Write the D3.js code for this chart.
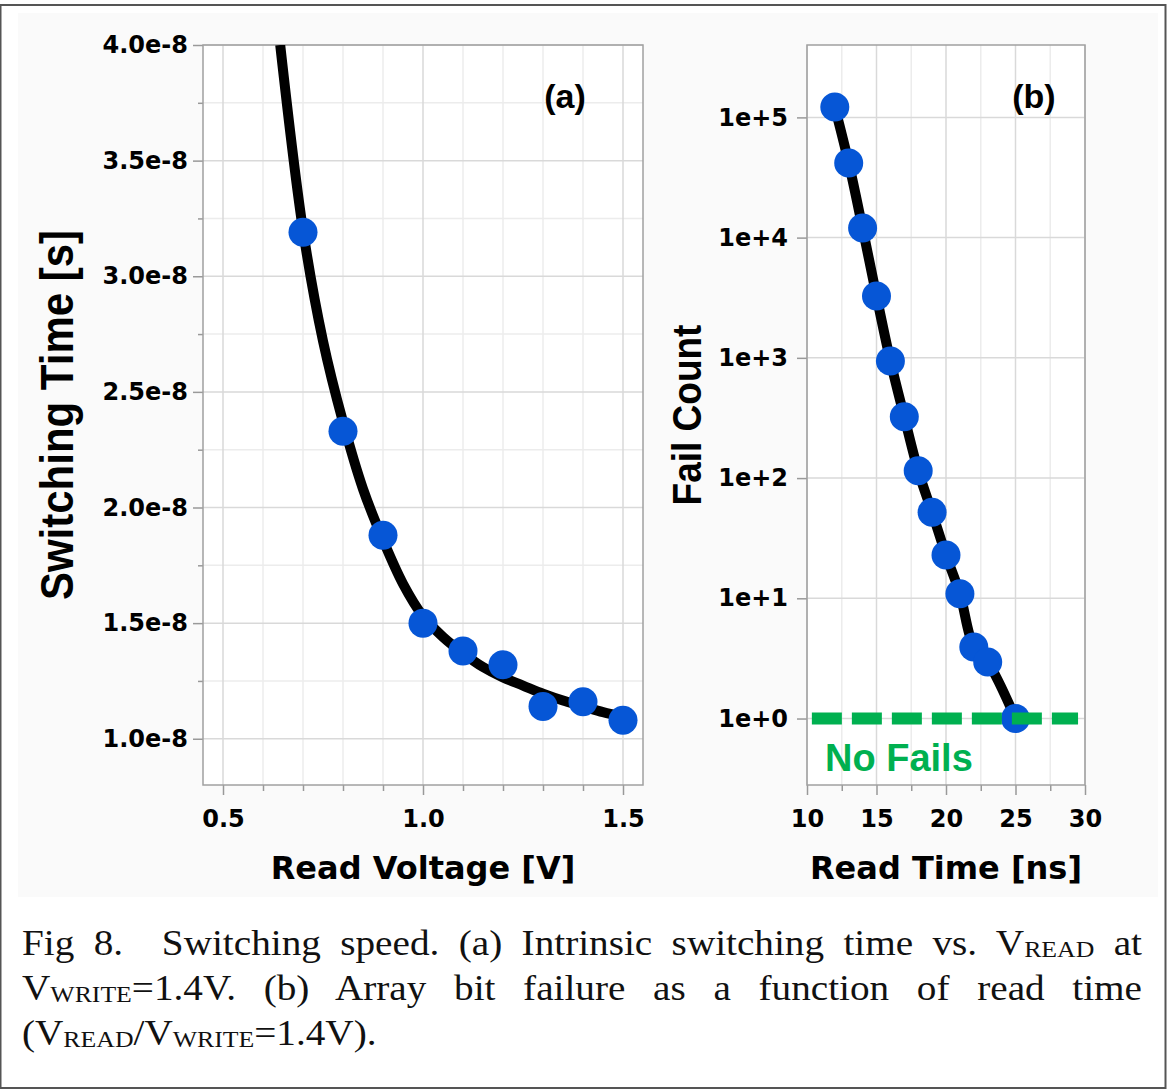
<!DOCTYPE html>
<html>
<head>
<meta charset="utf-8">
<script src="https://cdn.jsdelivr.net/npm/d3@7"></script>
<style>
  body { margin: 0; background: #fff; }
  #wrap { position: relative; width: 1175px; height: 1091px; overflow: hidden; }
  #wrap svg { position: absolute; left: 0; top: 0; }
  /* the scanned caption is a little stretched sideways */
  .caption { position: absolute; left: 22px; top: 921px; width: 1000px;
    transform: scaleX(1.12); transform-origin: 0 0;
    font-family: "Liberation Serif", "Times New Roman", serif; font-size: 35px; color: #111; }
  .caption div { height: 45px; line-height: 45px; white-space: nowrap; }
  .caption .just { text-align: justify; text-align-last: justify; }
  .caption .sc { font-size: 23px; vertical-align: -2px; line-height: 0; }
</style>
</head>
<body>
<div id="wrap"></div>
<script>
// ---- panel (a): switching time vs read voltage ----
const voltage    = [0.7, 0.8, 0.9, 1.0, 1.1, 1.2, 1.3, 1.4, 1.5];
const switchTime = [3.19e-8, 2.33e-8, 1.88e-8, 1.50e-8, 1.38e-8, 1.32e-8, 1.14e-8, 1.16e-8, 1.08e-8];
// fitted curve
const fitVoltage = [0.643, 0.70, 0.75, 0.80, 0.85, 0.90, 0.95, 1.00, 1.05, 1.10, 1.15, 1.20, 1.25, 1.30, 1.35, 1.40, 1.45, 1.50];
const fitTime    = [4.0e-8, 3.2e-8, 2.72e-8, 2.37e-8, 2.08e-8, 1.86e-8, 1.67e-8, 1.53e-8, 1.44e-8, 1.37e-8,
                    1.31e-8, 1.265e-8, 1.23e-8, 1.195e-8, 1.165e-8, 1.14e-8, 1.115e-8, 1.095e-8];
const aXTicks = [0.5, 1.0, 1.5];
const aXMinor = [0.6, 0.7, 0.8, 0.9, 1.1, 1.2, 1.3, 1.4];
const aYTicks = [1.0e-8, 1.5e-8, 2.0e-8, 2.5e-8, 3.0e-8, 3.5e-8, 4.0e-8];
const aYMinor = [1.25e-8, 1.75e-8, 2.25e-8, 2.75e-8, 3.25e-8, 3.75e-8];

// ---- panel (b): fail count vs read time ----
const readTime  = [12, 13, 14, 15, 16, 17, 18, 19, 20, 21, 22, 23, 25];
const failCount = [122000, 41800, 12000, 3270, 943, 323, 115, 52, 22.9, 10.9, 3.94, 2.95, 1];
const noFailsX  = [10.35, 29.5];
const noFailsY  = 1;
const bXTicks = [10, 15, 20, 25, 30];
const bXMinor = [12.5, 17.5, 22.5, 27.5];
const bYTicks = [1, 10, 100, 1000, 10000, 100000];

const W = 1175, H = 1091;
const blue = "#0656d6", green = "#00b050";
const tickFont = "'DejaVu Sans', sans-serif";
const titleFont = "'Liberation Sans', Arial, sans-serif";

const wrap = d3.select("#wrap");
const svg = wrap.append("svg").attr("width", W).attr("height", H);

// outer frame + light figure panel
svg.append("rect").attr("x", 18).attr("y", 13).attr("width", 1140).attr("height", 884).attr("fill", "#fafafa");
svg.append("rect").attr("x", 0.5).attr("y", 5).attr("width", 1165).attr("height", 1083)
  .attr("fill", "none").attr("stroke", "#555").attr("stroke-width", 2);

const xA = d3.scaleLinear().domain([0.45, 1.55]).range([203, 643]);
const yA = d3.scaleLinear().domain([0.8e-8, 4.0e-8]).range([785, 45]);
const xB = d3.scaleLinear().domain([10, 30]).range([807, 1085]);
const yB = d3.scaleLog().domain([0.28, 4e5]).range([785, 45]);

function frame(x, y, xMajor, xMinor, yMajor, yMinor, xFmt, yFmt, yPad, id) {
  const g = svg.append("g");
  const [x0, x1] = x.range(), [y0, y1] = [y.range()[1], y.range()[0]];
  g.append("rect").attr("x", x0).attr("y", y0).attr("width", x1 - x0).attr("height", y1 - y0).attr("fill", "#fff");

  // grid
  g.append("g").selectAll("line").data(xMinor).join("line")
    .attr("x1", d => x(d)).attr("x2", d => x(d)).attr("y1", y0).attr("y2", y1)
    .attr("stroke", "#ececec").attr("stroke-width", 1.5);
  g.append("g").selectAll("line").data(yMinor).join("line")
    .attr("y1", d => y(d)).attr("y2", d => y(d)).attr("x1", x0).attr("x2", x1)
    .attr("stroke", "#ececec").attr("stroke-width", 1.5);
  g.append("g").selectAll("line").data(xMajor).join("line")
    .attr("x1", d => x(d)).attr("x2", d => x(d)).attr("y1", y0).attr("y2", y1)
    .attr("stroke", "#d9d9d9").attr("stroke-width", 1.5);
  g.append("g").selectAll("line").data(yMajor).join("line")
    .attr("y1", d => y(d)).attr("y2", d => y(d)).attr("x1", x0).attr("x2", x1)
    .attr("stroke", "#d9d9d9").attr("stroke-width", 1.5);

  // axes
  const ax = g.append("g").attr("transform", `translate(0,${y1})`)
    .call(d3.axisBottom(x).tickValues(xMajor).tickFormat(xFmt).tickSize(10).tickPadding(15));
  const axm = g.append("g").attr("transform", `translate(0,${y1})`)
    .call(d3.axisBottom(x).tickValues(xMinor).tickFormat("").tickSize(6));
  const ay = g.append("g").attr("transform", `translate(${x0},0)`)
    .call(d3.axisLeft(y).tickValues(yMajor).tickFormat(yFmt).tickSize(10).tickPadding(yPad));
  const aym = g.append("g").attr("transform", `translate(${x0},0)`)
    .call(d3.axisLeft(y).tickValues(yMinor).tickFormat("").tickSize(5));
  [ax, axm, ay, aym].forEach(a => {
    a.select(".domain").remove();
    a.selectAll(".tick line").attr("stroke", "#999").attr("stroke-width", 1.5);
    a.selectAll(".tick text").attr("font-family", tickFont).attr("font-weight", "bold")
      .attr("font-size", 24).attr("fill", "#000");
  });

  g.append("rect").attr("x", x0).attr("y", y0).attr("width", x1 - x0).attr("height", y1 - y0)
    .attr("fill", "none").attr("stroke", "#a0a0a0").attr("stroke-width", 1.5);

  svg.append("clipPath").attr("id", id).append("rect")
    .attr("x", x0).attr("y", y0).attr("width", x1 - x0).attr("height", y1 - y0);
  return g;
}

// ---- panel (a) ----
const gA = frame(xA, yA, aXTicks, aXMinor, aYTicks, aYMinor, d3.format(".1f"), d3.format(".1e"), 5, "clipA");
const fitPts = fitVoltage.map((v, i) => [v, fitTime[i]]);
gA.append("path").datum(fitPts)
  .attr("clip-path", "url(#clipA)")
  .attr("d", d3.line().x(d => xA(d[0])).y(d => yA(d[1])).curve(d3.curveCatmullRom))
  .attr("fill", "none").attr("stroke", "#000").attr("stroke-width", 10);
gA.append("g").selectAll("circle").data(voltage).join("circle")
  .attr("cx", d => xA(d)).attr("cy", (d, i) => yA(switchTime[i])).attr("r", 14.5).attr("fill", blue);

gA.append("text").attr("x", 565).attr("y", 108).attr("text-anchor", "middle")
  .attr("font-family", titleFont).attr("font-weight", "bold").attr("font-size", 34).text("(a)");
gA.append("text").attr("x", 423).attr("y", 879).attr("text-anchor", "middle")
  .attr("font-family", tickFont).attr("font-weight", "bold").attr("font-size", 32).text("Read Voltage [V]");
gA.append("text").attr("transform", "translate(73,415) scale(1.12,1) rotate(-90)").attr("text-anchor", "middle")
  .attr("font-family", titleFont).attr("font-weight", "bold").attr("font-size", 42).text("Switching Time [s]");

// ---- panel (b) ----
const gB = frame(xB, yB, bXTicks, bXMinor, bYTicks, [], d3.format("d"), d3.format(".0e"), 9, "clipB");
const failPts = readTime.map((t, i) => [t, failCount[i]]);
gB.append("path").datum(failPts)
  .attr("clip-path", "url(#clipB)")
  .attr("d", d3.line().x(d => xB(d[0])).y(d => yB(d[1])).curve(d3.curveCatmullRom))
  .attr("fill", "none").attr("stroke", "#000").attr("stroke-width", 10);
gB.append("g").selectAll("circle").data(failPts).join("circle")
  .attr("cx", d => xB(d[0])).attr("cy", d => yB(d[1])).attr("r", 14.5).attr("fill", blue);
gB.append("line")
  .attr("x1", xB(noFailsX[0])).attr("x2", xB(noFailsX[1]))
  .attr("y1", yB(noFailsY)).attr("y2", yB(noFailsY))
  .attr("stroke", green).attr("stroke-width", 12).attr("stroke-dasharray", "30,10");
gB.append("text").attr("x", xB(10) + 18).attr("y", yB(noFailsY) + 52)
  .attr("font-family", titleFont).attr("font-weight", "bold").attr("font-size", 38)
  .attr("fill", green).text("No Fails");

gB.append("text").attr("x", 1034).attr("y", 108).attr("text-anchor", "middle")
  .attr("font-family", titleFont).attr("font-weight", "bold").attr("font-size", 34).text("(b)");
gB.append("text").attr("x", 946).attr("y", 879).attr("text-anchor", "middle")
  .attr("font-family", tickFont).attr("font-weight", "bold").attr("font-size", 32).text("Read Time [ns]");
gB.append("text").attr("transform", "translate(701,415) scale(1.12,1) rotate(-90)").attr("text-anchor", "middle")
  .attr("font-family", titleFont).attr("font-weight", "bold").attr("font-size", 37).text("Fail Count");

// ---- caption ----
const cap = wrap.append("div").attr("class", "caption");
cap.append("div").attr("class", "just")
  .html('Fig 8.&nbsp; Switching speed. (a) Intrinsic switching time vs. V<span class="sc">READ</span> at');
cap.append("div").attr("class", "just")
  .html('V<span class="sc">WRITE</span>=1.4V. (b) Array bit failure as a function of read time');
cap.append("div")
  .html('(V<span class="sc">READ</span>/V<span class="sc">WRITE</span>=1.4V).');
</script>
</body>
</html>
